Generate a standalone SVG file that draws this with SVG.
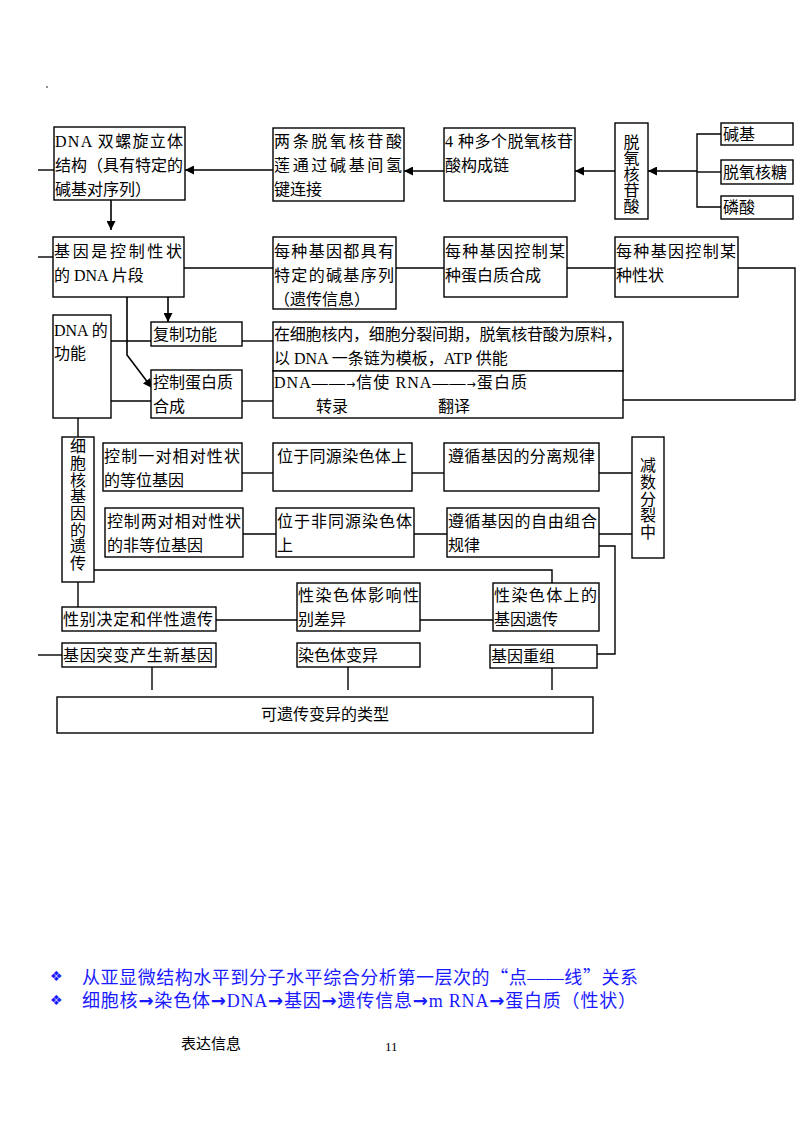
<svg xmlns="http://www.w3.org/2000/svg" width="800" height="1130" viewBox="0 0 800 1130">
<style>
.b{fill:#fff;stroke:#000;stroke-width:1.4}
.l{fill:none;stroke:#000;stroke-width:1.4}
.a{fill:none;stroke:#000;stroke-width:1.6;marker-end:url(#ah)}
.t{font-family:"Liberation Serif","Noto Sans CJK SC",serif;font-size:16px;fill:#000}
.v{font-family:"Liberation Serif","Noto Sans CJK SC",serif;font-size:16px;fill:#000;text-anchor:middle}
.c{font-family:"Liberation Serif","Noto Sans CJK SC",serif;font-size:18px;fill:#1a1aff}
.d{font-family:"DejaVu Sans",sans-serif;font-size:14px;fill:#1a1aff}
.ar{font-family:"DejaVu Sans",sans-serif}
.ab{font-family:"DejaVu Sans",sans-serif;font-weight:bold}
.q{font-family:"Noto Sans CJK SC",sans-serif}
</style>
<defs>
<marker id="ah" viewBox="0 0 10 10" refX="10" refY="5" markerWidth="10" markerHeight="9" markerUnits="userSpaceOnUse" orient="auto">
<path d="M0,0 L10,5 L0,10 z" fill="#000"/>
</marker>
</defs>
<rect width="800" height="1130" fill="#fff"/>
<circle cx="47" cy="87" r="0.8" fill="#000"/>

<g id="connectors">
<line class="l" x1="38" y1="170" x2="54" y2="170"/>
<line class="l" x1="38" y1="257" x2="53" y2="257"/>
<line class="l" x1="38" y1="655" x2="62" y2="655"/>
<line class="a" x1="273" y1="170" x2="185" y2="170"/>
<line class="a" x1="444" y1="171" x2="404" y2="171"/>
<line class="a" x1="615" y1="171" x2="575" y2="171"/>
<line class="a" x1="697" y1="171" x2="648" y2="171"/>
<path class="l" d="M721,134 H697 V207 H721"/>
<line class="l" x1="697" y1="172" x2="721" y2="172"/>
<line class="a" x1="111" y1="200" x2="111" y2="230"/>
<line class="l" x1="184" y1="268" x2="273" y2="268"/>
<line class="l" x1="396" y1="268" x2="444" y2="268"/>
<line class="l" x1="567" y1="268" x2="615" y2="268"/>
<path class="l" d="M738,268 H795 V400 H623"/>
<line class="a" x1="168" y1="297" x2="168" y2="322"/>
<path class="a" d="M127,297 V355 L152,388"/>
<line class="l" x1="111" y1="341" x2="151" y2="341"/>
<line class="l" x1="242" y1="341" x2="273" y2="341"/>
<line class="l" x1="111" y1="401" x2="151" y2="401"/>
<line class="l" x1="242" y1="401" x2="273" y2="401"/>
<line class="l" x1="78" y1="418" x2="78" y2="437"/>
<line class="l" x1="242" y1="473" x2="273" y2="473"/>
<line class="l" x1="412" y1="473" x2="444" y2="473"/>
<line class="l" x1="599" y1="473" x2="632" y2="473"/>
<line class="l" x1="243" y1="534" x2="276" y2="534"/>
<line class="l" x1="414" y1="534" x2="447" y2="534"/>
<line class="l" x1="599" y1="534" x2="632" y2="534"/>
<path class="l" d="M599,546 H615 V654 H597"/>
<path class="l" d="M94,570 H552 V583"/>
<line class="l" x1="78" y1="582" x2="78" y2="607"/>
<line class="l" x1="216" y1="620" x2="297" y2="620"/>
<line class="l" x1="420" y1="620" x2="493" y2="620"/>
<line class="l" x1="152" y1="667" x2="152" y2="690"/>
<line class="l" x1="348" y1="667" x2="348" y2="690"/>
<line class="l" x1="552" y1="668" x2="552" y2="690"/>
</g>

<g id="n-dna-structure">
<rect class="b" x="54" y="127" width="131" height="73"/>
<text class="t" x="55" y="147" textLength="128" lengthAdjust="spacing">DNA 双螺旋立体</text>
<text class="t" x="55" y="171" textLength="128" lengthAdjust="spacing">结构（具有特定的</text>
<text class="t" x="55" y="195">碱基对序列）</text>
</g>
<g id="n-two-chains">
<rect class="b" x="273" y="128" width="131" height="73"/>
<text class="t" x="274" y="147" textLength="128" lengthAdjust="spacing">两条脱氧核苷酸</text>
<text class="t" x="274" y="171" textLength="128" lengthAdjust="spacing">莲通过碱基间氢</text>
<text class="t" x="274" y="195">键连接</text>
</g>
<g id="n-chain">
<rect class="b" x="444" y="128" width="131" height="73"/>
<text class="t" x="445" y="147" textLength="128" lengthAdjust="spacing">4 种多个脱氧核苷</text>
<text class="t" x="445" y="171">酸构成链</text>
</g>
<g id="n-nucleotide">
<rect class="b" x="615" y="123" width="33" height="96"/>
<text class="v" x="631.5" y="148">脱</text>
<text class="v" x="631.5" y="164">氧</text>
<text class="v" x="631.5" y="180">核</text>
<text class="v" x="631.5" y="196">苷</text>
<text class="v" x="631.5" y="212">酸</text>
</g>
<g id="n-base">
<rect class="b" x="721" y="123" width="72" height="22"/>
<text class="t" x="723" y="140">碱基</text>
</g>
<g id="n-sugar">
<rect class="b" x="721" y="160" width="72" height="24"/>
<text class="t" x="723" y="178">脱氧核糖</text>
</g>
<g id="n-phosphate">
<rect class="b" x="721" y="196" width="72" height="23"/>
<text class="t" x="723" y="213">磷酸</text>
</g>

<g id="n-gene">
<rect class="b" x="53" y="237" width="131" height="60"/>
<text class="t" x="54" y="257" textLength="128" lengthAdjust="spacing">基因是控制性状</text>
<text class="t" x="54" y="281">的 DNA 片段</text>
</g>
<g id="n-sequence">
<rect class="b" x="273" y="237" width="123" height="72"/>
<text class="t" x="274" y="257" textLength="120" lengthAdjust="spacing">每种基因都具有</text>
<text class="t" x="274" y="281" textLength="120" lengthAdjust="spacing">特定的碱基序列</text>
<text class="t" x="274" y="305">（遗传信息）</text>
</g>
<g id="n-protein">
<rect class="b" x="444" y="237" width="123" height="60"/>
<text class="t" x="445" y="257" textLength="120" lengthAdjust="spacing">每种基因控制某</text>
<text class="t" x="445" y="281">种蛋白质合成</text>
</g>
<g id="n-trait">
<rect class="b" x="615" y="237" width="123" height="60"/>
<text class="t" x="616" y="257" textLength="120" lengthAdjust="spacing">每种基因控制某</text>
<text class="t" x="616" y="281">种性状</text>
</g>

<g id="n-dna-function">
<rect class="b" x="53" y="315" width="58" height="103"/>
<text class="t" x="54" y="336">DNA 的</text>
<text class="t" x="54" y="359">功能</text>
</g>
<g id="n-replication">
<rect class="b" x="151" y="322" width="91" height="24"/>
<text class="t" x="153" y="340">复制功能</text>
</g>
<g id="n-replication-desc">
<rect class="b" x="273" y="322" width="350" height="49"/>
<text class="t" x="274" y="340" textLength="348" lengthAdjust="spacing">在细胞核内，细胞分裂间期，脱氧核苷酸为原料，</text>
<text class="t" x="274" y="364">以 DNA 一条链为模板，ATP 供能</text>
</g>
<g id="n-protein-synth">
<rect class="b" x="151" y="370" width="91" height="48"/>
<text class="t" x="153" y="388">控制蛋白质</text>
<text class="t" x="153" y="412">合成</text>
</g>
<g id="n-expression">
<rect class="b" x="273" y="371" width="350" height="47"/>
<text class="t" x="274" y="388" textLength="253" lengthAdjust="spacing">DNA——<tspan class="ar" style="font-size:11px">→</tspan>信使 RNA——<tspan class="ar" style="font-size:11px">→</tspan>蛋白质</text>
<text class="t" x="316" y="412">转录</text>
<text class="t" x="438" y="412">翻译</text>
</g>

<g id="n-nuclear-inheritance">
<rect class="b" x="62" y="437" width="32" height="145"/>
<text class="v" x="78" y="452">细</text>
<text class="v" x="78" y="469">胞</text>
<text class="v" x="78" y="486">核</text>
<text class="v" x="78" y="502">基</text>
<text class="v" x="78" y="519">因</text>
<text class="v" x="78" y="536">的</text>
<text class="v" x="78" y="552">遗</text>
<text class="v" x="78" y="569">传</text>
</g>
<g id="n-one-pair">
<rect class="b" x="103" y="443" width="139" height="48"/>
<text class="t" x="104" y="462" textLength="136" lengthAdjust="spacing">控制一对相对性状</text>
<text class="t" x="104" y="486">的等位基因</text>
</g>
<g id="n-homologous">
<rect class="b" x="273" y="443" width="139" height="48"/>
<text class="t" x="277" y="462" textLength="130" lengthAdjust="spacing">位于同源染色体上</text>
</g>
<g id="n-segregation">
<rect class="b" x="444" y="443" width="155" height="48"/>
<text class="t" x="448" y="462" textLength="147" lengthAdjust="spacing">遵循基因的分离规律</text>
</g>
<g id="n-meiosis">
<rect class="b" x="632" y="437" width="32" height="121"/>
<text class="v" x="648" y="471">减</text>
<text class="v" x="648" y="488">数</text>
<text class="v" x="648" y="505">分</text>
<text class="v" x="648" y="521">裂</text>
<text class="v" x="648" y="538">中</text>
</g>
<g id="n-two-pairs">
<rect class="b" x="105" y="508" width="138" height="49"/>
<text class="t" x="107" y="527" textLength="134" lengthAdjust="spacing">控制两对相对性状</text>
<text class="t" x="107" y="551">的非等位基因</text>
</g>
<g id="n-nonhomologous">
<rect class="b" x="276" y="508" width="138" height="49"/>
<text class="t" x="277" y="527" textLength="135" lengthAdjust="spacing">位于非同源染色体</text>
<text class="t" x="277" y="551">上</text>
</g>
<g id="n-independent">
<rect class="b" x="447" y="508" width="152" height="49"/>
<text class="t" x="448" y="527" textLength="149" lengthAdjust="spacing">遵循基因的自由组合</text>
<text class="t" x="448" y="551">规律</text>
</g>

<g id="n-sex-linked">
<rect class="b" x="62" y="607" width="154" height="24"/>
<text class="t" x="63" y="625" textLength="150" lengthAdjust="spacing">性别决定和伴性遗传</text>
</g>
<g id="n-sex-chrom-effect">
<rect class="b" x="297" y="583" width="123" height="48"/>
<text class="t" x="298" y="601" textLength="121" lengthAdjust="spacing">性染色体影响性</text>
<text class="t" x="298" y="625">别差异</text>
</g>
<g id="n-sex-chrom-genes">
<rect class="b" x="493" y="583" width="106" height="48"/>
<text class="t" x="494" y="601" textLength="103" lengthAdjust="spacing">性染色体上的</text>
<text class="t" x="494" y="625">基因遗传</text>
</g>
<g id="n-mutation">
<rect class="b" x="62" y="643" width="154" height="24"/>
<text class="t" x="63" y="661" textLength="150" lengthAdjust="spacing">基因突变产生新基因</text>
</g>
<g id="n-chrom-variation">
<rect class="b" x="297" y="643" width="123" height="24"/>
<text class="t" x="298" y="661">染色体变异</text>
</g>
<g id="n-recombination">
<rect class="b" x="490" y="645" width="107" height="23"/>
<text class="t" x="491" y="662">基因重组</text>
</g>
<g id="n-heritable-variation">
<rect class="b" x="57" y="697" width="536" height="36"/>
<text class="t" x="325" y="720" text-anchor="middle">可遗传变异的类型</text>
</g>

<g id="notes">
<text class="d" x="50" y="981">❖</text>
<text class="c" x="82" y="984" textLength="556" lengthAdjust="spacing">从亚显微结构水平到分子水平综合分析第一层次的<tspan class="q">“</tspan>点——线<tspan class="q">”</tspan>关系</text>
<text class="d" x="50" y="1005">❖</text>
<text class="c" x="82" y="1007" textLength="554" lengthAdjust="spacing">细胞核<tspan class="ab">→</tspan>染色体<tspan class="ab">→</tspan>DNA<tspan class="ab">→</tspan>基因<tspan class="ab">→</tspan>遗传信息<tspan class="ab">→</tspan>m RNA<tspan class="ab">→</tspan>蛋白质（性状）</text>
<text class="t" x="181" y="1049" style="font-size:15px">表达信息</text>
<text class="t" x="385" y="1051" style="font-size:13px">11</text>
</g>
</svg>
